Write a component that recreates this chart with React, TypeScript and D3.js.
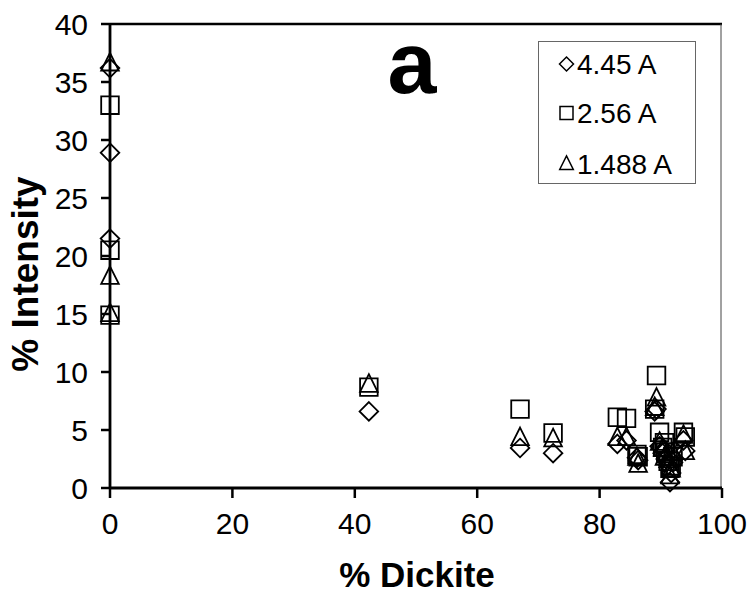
import React from 'react';
import * as d3 from 'd3';

// % Dickite for each sample
const dickite = [0, 0, 0, 42.3, 67.0, 72.4, 82.9, 84.4, 86.1, 86.3, 89.3, 89.0, 89.8, 90.3, 90.6, 90.8, 91.2, 91.5, 91.7, 92.0, 93.7, 94.0];
// % Intensity per reflection
const int445 = [36.2, 28.9, 21.5, 6.6, 3.45, 3.0, 3.8, 4.1, 2.6, 2.4, 6.8, 6.6, 3.6, 3.0, 3.3, 2.5, 2.0, 0.5, 1.3, 2.2, 4.1, 3.2];
const int256 = [33.0, 20.5, 14.9, 8.7, 6.8, 4.74, 6.1, 6.0, 2.9, 2.7, 9.7, 6.8, 4.8, 3.5, 3.9, 3.1, 2.3, 1.7, 1.9, 2.7, 4.8, 4.4];
const int1488 = [36.6, 18.2, 15.0, 8.9, 4.3, 4.2, 4.3, 4.3, 2.6, 2.0, 7.7, 6.9, 3.9, 3.4, 2.6, 2.8, 2.4, 1.0, 1.6, 3.0, 4.5, 3.1];

const seriesNames = ['4.45 A', '2.56 A', '1.488 A'];
const xTicks = [0, 20, 40, 60, 80, 100];
const yTicks = [0, 5, 10, 15, 20, 25, 30, 35, 40];

const FONT = '"Liberation Sans", Arial, Helvetica, sans-serif';

function diamondPath(cx: number, cy: number, r: number) {
  return `M${cx},${cy - r}L${cx + r},${cy}L${cx},${cy + r}L${cx - r},${cy}Z`;
}
function squarePath(cx: number, cy: number, r: number) {
  return `M${cx - r},${cy - r}H${cx + r}V${cy + r}H${cx - r}Z`;
}
function trianglePath(cx: number, cy: number, r: number) {
  const h = r * 2;
  return `M${cx},${cy - h * 0.6}L${cx + r},${cy + h * 0.4}L${cx - r},${cy + h * 0.4}Z`;
}

export default function App() {
  const W = 750, H = 594;
  const x = d3.scaleLinear().domain([0, 100]).range([110, 722]);
  const y = d3.scaleLinear().domain([0, 40]).range([488, 24]);
  const shapes = [diamondPath, squarePath, trianglePath];
  const sizes = [9.3, 8.8, 8.8];
  const legendSizes = [7, 6.5, 6.8];
  const series = [int445, int256, int1488];

  return (
    <svg width={W} height={H} style={{ position: 'absolute', left: 0, top: 0, background: '#fff' }}>
      <rect x={0} y={0} width={W} height={H} fill="#fff" />
      {/* plot frame: top & right */}
      <line x1={x(0)} x2={x(100)} y1={y(40)} y2={y(40)} stroke="#000" strokeWidth={2.5} />
      <line x1={x(100) - 1} x2={x(100) - 1} y1={y(40)} y2={y(0)} stroke="#444" strokeWidth={1} />

      {/* markers */}
      {series.map((vals, si) => (
        <g key={si}>
          {vals.map((v, i) => (
            <path key={i} d={shapes[si](x(dickite[i]), y(v), sizes[si])} fill="none" stroke="#000" strokeWidth={1.8} />
          ))}
        </g>
      ))}

      {/* axes */}
      <line x1={x(0)} x2={x(100)} y1={y(0)} y2={y(0)} stroke="#000" strokeWidth={2.8} />
      <line x1={x(0)} x2={x(0)} y1={y(0)} y2={y(40)} stroke="#000" strokeWidth={2.8} />
      {xTicks.map((t) => (
        <g key={t}>
          <line x1={x(t)} x2={x(t)} y1={y(0)} y2={y(0) + 10} stroke="#000" strokeWidth={2.5} />
          <text x={x(t)} y={534} textAnchor="middle" fontFamily={FONT} fontSize={30} fill="#000">{t}</text>
        </g>
      ))}
      {yTicks.map((t) => (
        <g key={t}>
          <line x1={x(0) - 9} x2={x(0)} y1={y(t)} y2={y(t)} stroke="#000" strokeWidth={2.5} />
          <text x={88} y={y(t) + 11} textAnchor="end" fontFamily={FONT} fontSize={30} fill="#000">{t}</text>
        </g>
      ))}

      {/* axis titles */}
      <text x={417} y={587} textAnchor="middle" fontFamily={FONT} fontWeight="bold" fontSize={35} fill="#000">% Dickite</text>
      <text transform={`translate(38,274) rotate(-90)`} textAnchor="middle" fontFamily={FONT} fontWeight="bold" fontSize={37} fill="#000">% Intensity</text>

      {/* panel label */}
      <text x={412} y={93} textAnchor="middle" fontFamily={FONT} fontWeight="bold" fontSize={88} fill="#000">a</text>

      {/* legend */}
      <rect x={538.5} y={41.5} width={157} height={142} fill="#fff" stroke="#666" strokeWidth={1} />
      {seriesNames.map((name, i) => {
        const cy = [64, 113, 164][i];
        return (
          <g key={name}>
            <path d={shapes[i](566.5, cy, legendSizes[i])} fill="none" stroke="#000" strokeWidth={1.5} />
            <text x={577} y={cy + 9.5} fontFamily={FONT} fontSize={28} fill="#000">{name}</text>
          </g>
        );
      })}
    </svg>
  );
}
